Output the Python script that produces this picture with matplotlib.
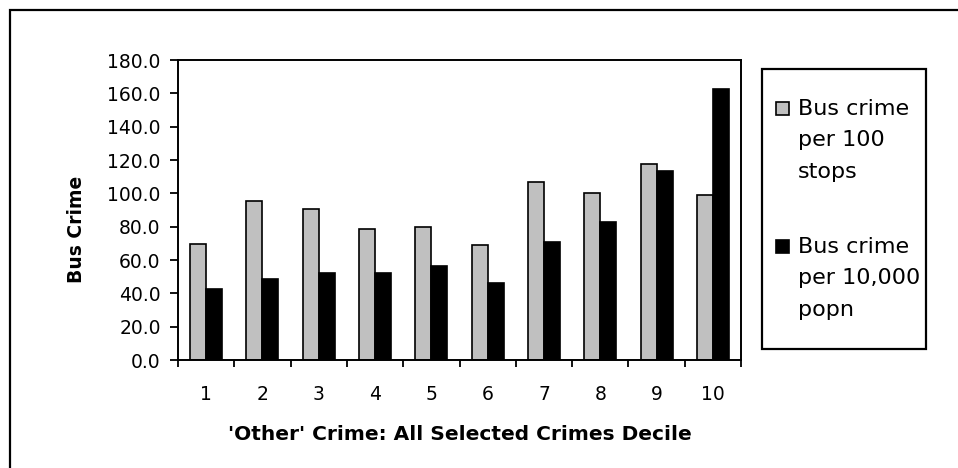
import numpy as np
import matplotlib
matplotlib.use("Agg")
import matplotlib.pyplot as plt
from matplotlib.patches import Rectangle

plt.rcParams['font.family'] = ['DejaVu Sans']

deciles = ['1', '2', '3', '4', '5', '6', '7', '8', '9', '10']
per_100_stops = [69.4, 95.4, 90.6, 78.8, 80.0, 69.2, 107.0, 100.2, 117.8, 99.0]
per_10000_popn = [42.4, 48.4, 52.0, 52.0, 56.6, 46.0, 71.0, 82.6, 113.2, 162.6]
legend_labels = [['Bus crime', 'per 100', 'stops'],
                 ['Bus crime', 'per 10,000', 'popn']]
colors = ['#C0C0C0', '#000000']

W, H = 958, 468
fig = plt.figure(figsize=(W / 100, H / 100), dpi=100)

# outer chart frame (runs off the right / bottom edge like the original)
fig.patches.append(Rectangle((10 / W, -0.05), 1.0, 1 - 10 / H + 0.05,
                             transform=fig.transFigure, fill=False,
                             edgecolor='black', linewidth=1.6, clip_on=False))

# plot area
ax = fig.add_axes([178 / W, 1 - 360 / H, (741 - 178) / W, 300 / H])
x = np.arange(len(deciles))
bw = 0.285
ax.bar(x - bw / 2, per_100_stops, bw, color=colors[0], edgecolor='black', linewidth=1.2)
ax.bar(x + bw / 2, per_10000_popn, bw, color=colors[1], edgecolor='black', linewidth=1.2)

ax.set_xlim(-0.5, len(deciles) - 0.5)
ax.set_ylim(0, 180)
ax.set_yticks(np.arange(0, 181, 20))
ax.set_yticklabels([f'{v:.1f}' for v in np.arange(0, 181, 20)])
ax.set_xticks(x)
ax.set_xticklabels(deciles)
ax.set_xticks(np.arange(-0.5, len(deciles)), minor=True)
ax.tick_params(axis='x', which='major', length=0, pad=18, labelsize=13.5)
ax.tick_params(axis='x', which='minor', length=5, width=1.3, direction='out')
ax.tick_params(axis='y', length=5.5, width=1.3, direction='out', pad=7, labelsize=13.5)
for s in ax.spines.values():
    s.set_linewidth(1.4)

ax.set_xlabel("'Other' Crime: All Selected Crimes Decile", fontsize=14.5,
              fontweight='bold', va='baseline')
ax.xaxis.set_label_coords(0.5, (360 - 440) / 300)
ax.set_ylabel('Bus Crime', fontsize=13.5, fontweight='bold', va='center', ha='center')
ax.yaxis.set_label_coords((76 - 178) / 563, (360 - 229) / 300)

# legend box, drawn by hand to match the layout
fig.patches.append(Rectangle((762 / W, 1 - 349 / H), (926 - 762) / W, (349 - 69) / H,
                             transform=fig.transFigure, fill=False,
                             edgecolor='black', linewidth=1.6))
first_baselines = [115, 253]
for lab, col, base in zip(legend_labels, colors, first_baselines):
    fig.patches.append(Rectangle((776 / W, 1 - base / H), 13 / W, 13 / H,
                                 transform=fig.transFigure, facecolor=col,
                                 edgecolor='black', linewidth=1.2))
    for i, line in enumerate(lab):
        fig.text(798 / W, 1 - (base + i * 31.5) / H, line, fontsize=16,
                 ha='left', va='baseline')

fig.savefig('out.png', dpi=100)
